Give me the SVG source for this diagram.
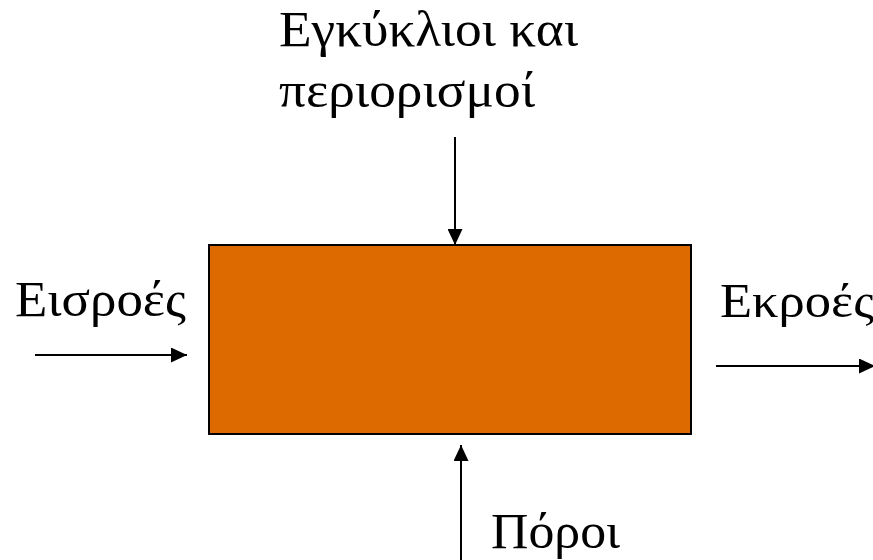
<svg xmlns="http://www.w3.org/2000/svg" width="873" height="560" viewBox="0 0 873 560">
<style>
text{font-family:"Liberation Serif","Times New Roman",serif;font-size:50px;fill:#000}
.c{stroke:#000;stroke-width:2;fill:none}
</style>
<defs>
<marker id="ah" markerWidth="16" markerHeight="15" refX="16" refY="7.5" orient="auto" markerUnits="userSpaceOnUse" viewBox="0 0 16 15"><path d="M0,0 L16,7.5 L0,15 Z" fill="#000"/></marker>
</defs>
<rect width="873" height="560" fill="#fff"/>
<g id="process"><rect x="209" y="245" width="482" height="189" fill="#DD6A00" stroke="#000" stroke-width="2"/></g>
<g id="connectors">
<line class="c" x1="455" y1="137" x2="455" y2="245" marker-end="url(#ah)"/>
<line class="c" x1="35" y1="355" x2="187" y2="355" marker-end="url(#ah)"/>
<line class="c" x1="716" y1="366" x2="875" y2="366" marker-end="url(#ah)"/>
<line class="c" x1="461" y1="562" x2="461" y2="445" marker-end="url(#ah)"/>
</g>
<g id="label-constraints"><text x="279" y="46" textLength="299" lengthAdjust="spacingAndGlyphs">Εγκύκλιοι και</text><text x="279" y="107" textLength="256" lengthAdjust="spacingAndGlyphs">περιορισμοί</text></g>
<g id="label-inputs"><text x="15" y="316" textLength="171" lengthAdjust="spacingAndGlyphs">Εισροές</text></g>
<g id="label-outputs"><text x="720" y="317" style="font-size:48px" textLength="154" lengthAdjust="spacingAndGlyphs">Εκροές</text></g>
<g id="label-resources"><text x="491" y="548" textLength="129" lengthAdjust="spacingAndGlyphs">Πόροι</text></g>
</svg>
